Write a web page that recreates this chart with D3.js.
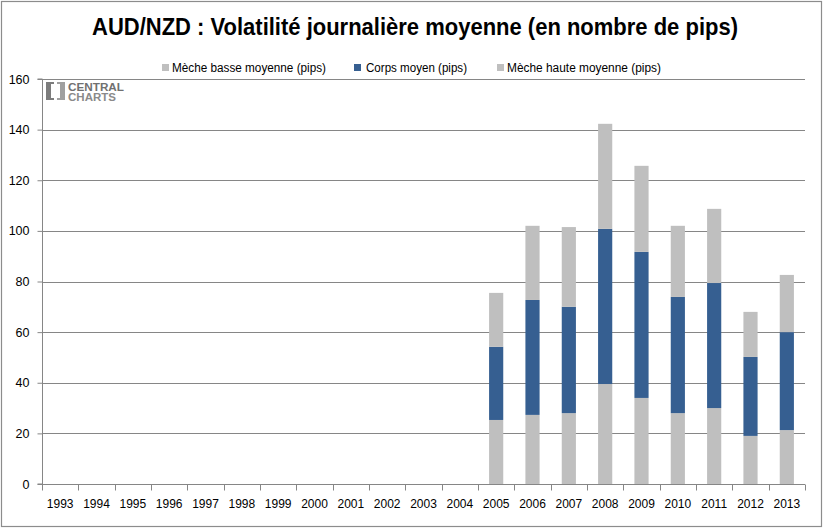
<!DOCTYPE html>
<html><head><meta charset="utf-8">
<script src="https://cdn.jsdelivr.net/npm/d3@7"></script>
<style>body{margin:0;background:#fff}svg{display:block}</style>
</head><body><svg id="c" width="823" height="529"></svg>
<script>
const years = ["1993","1994","1995","1996","1997","1998","1999","2000","2001","2002","2003","2004","2005","2006","2007","2008","2009","2010","2011","2012","2013"];
const mecheBasse = [0,0,0,0,0,0,0,0,0,0,0,0,25.3,27.3,28,39.5,34,28,30,19,21.3];
const corps      = [0,0,0,0,0,0,0,0,0,0,0,0,28.9,45.4,42,61.3,57.7,45.9,49.4,31.2,38.7];
const mecheHaute = [0,0,0,0,0,0,0,0,0,0,0,0,21.3,29.3,31.5,41.5,34,28.1,29.3,17.8,22.6];
const seriesNames = ["Mèche basse moyenne (pips)","Corps moyen (pips)","Mèche haute moyenne (pips)"];
const yTicks = [0,20,40,60,80,100,120,140,160];
const colors = ["#BFBFBF","#365F91","#BFBFBF"];

const svg = d3.select("#c");
const font = "'Liberation Sans', Arial, sans-serif";
svg.append("rect").attr("x",1.5).attr("y",1.5).attr("width",820).attr("height",525)
  .attr("fill","#fff").attr("stroke","#8c8c8c").attr("stroke-width",1.2);

const L=42, R=805, T=79, B=484;
const x = d3.scaleBand().domain(years).range([L,R]).paddingInner(0.61).paddingOuter(0.305);
const xb = d3.scaleBand().domain(years).range([L,R]);
const y = d3.scaleLinear().domain([0,160]).range([B,T]);

// grid
svg.append("g").selectAll("line").data(yTicks.filter(d=>d>0)).join("line")
  .attr("x1",L).attr("x2",R).attr("y1",d=>Math.round(y(d))+0.5).attr("y2",d=>Math.round(y(d))+0.5)
  .attr("stroke","#868686").attr("stroke-width",1);

// logo
const lg = svg.append("g");
lg.append("rect").attr("x",46).attr("y",82).attr("width",5).attr("height",18).attr("fill","#7c7c7c");
lg.append("rect").attr("x",51).attr("y",82).attr("width",3).attr("height",2).attr("fill","#7c7c7c");
lg.append("rect").attr("x",51).attr("y",98).attr("width",3).attr("height",2).attr("fill","#7c7c7c");
lg.append("rect").attr("x",57).attr("y",82).attr("width",3).attr("height",2).attr("fill","#a0a0a0");
lg.append("rect").attr("x",57).attr("y",98).attr("width",3).attr("height",2).attr("fill","#a0a0a0");
lg.append("rect").attr("x",60).attr("y",82).attr("width",5).attr("height",18).attr("fill","#a0a0a0");
lg.append("text").attr("x",68).attr("y",90.5).attr("font-family",font).attr("font-weight","bold")
  .attr("font-size",11.5).attr("fill","#707070").attr("textLength",56).attr("lengthAdjust","spacingAndGlyphs").text("CENTRAL");
lg.append("text").attr("x",68).attr("y",101).attr("font-family",font).attr("font-weight","bold")
  .attr("font-size",11.5).attr("fill","#8a8a8a").attr("textLength",48).attr("lengthAdjust","spacingAndGlyphs").text("CHARTS");

// stacked bars
const data = years.map((yr,i)=>({year:yr, v:[mecheBasse[i],corps[i],mecheHaute[i]]}));
const stack = d3.stack().keys([0,1,2]).value((d,k)=>d.v[k]);
const stacked = stack(data);
svg.append("g").selectAll("g").data(stacked).join("g").attr("fill",(d,i)=>colors[i])
  .selectAll("rect").data(d=>d).join("rect")
  .attr("x",d=>x(d.data.year)).attr("width",x.bandwidth())
  .attr("y",d=>y(d[1])).attr("height",d=>y(d[0])-y(d[1]));

// axes
const ya = d3.axisLeft(y).tickValues(yTicks).tickSize(5).tickPadding(7);
const gy = svg.append("g").attr("transform",`translate(${L+0.5},0)`).call(ya);
gy.select(".domain").attr("stroke","#868686").attr("d",`M-5,${T}H0V${B}H-5`);
gy.selectAll(".tick line").attr("stroke","#868686");
gy.selectAll(".tick text").attr("font-family",font).attr("font-size",12.5).attr("fill","#000").attr("dx",-1);

const gx = svg.append("g").attr("transform",`translate(0,${B+0.5})`);
gx.append("line").attr("x1",L).attr("x2",R).attr("stroke","#868686");
gx.selectAll(".tk").data(years.concat(["end"])).join("line").attr("class","tk")
  .attr("x1",(d,i)=>Math.round(L+i*xb.bandwidth())+0.5).attr("x2",(d,i)=>Math.round(L+i*xb.bandwidth())+0.5)
  .attr("y1",0).attr("y2",6).attr("stroke","#868686");
gx.selectAll("text").data(years).join("text")
  .attr("x",d=>xb(d)+xb.bandwidth()/2).attr("y",23).attr("text-anchor","middle")
  .attr("font-family",font).attr("font-size",12).attr("fill","#000").text(d=>d);

// title
svg.append("text").attr("x",415).attr("y",35).attr("text-anchor","middle")
  .attr("font-family",font).attr("font-weight","bold").attr("font-size",24).attr("fill","#000")
  .attr("textLength",646).attr("lengthAdjust","spacingAndGlyphs")
  .text("AUD/NZD : Volatilité journalière moyenne (en nombre de pips)");

// legend
const leg = [{sx:162,tx:172,tw:154},{sx:354,tx:366,tw:101},{sx:497,tx:507,tw:154}];
const lgG = svg.append("g").selectAll("g").data(seriesNames).join("g");
lgG.append("rect").attr("x",(d,i)=>leg[i].sx).attr("y",64).attr("width",7).attr("height",7).attr("fill",(d,i)=>colors[i]);
lgG.append("text").attr("x",(d,i)=>leg[i].tx).attr("y",72).attr("font-family",font).attr("font-size",12)
  .attr("fill","#000").attr("textLength",(d,i)=>leg[i].tw).attr("lengthAdjust","spacingAndGlyphs").text(d=>d);
</script></body></html>
